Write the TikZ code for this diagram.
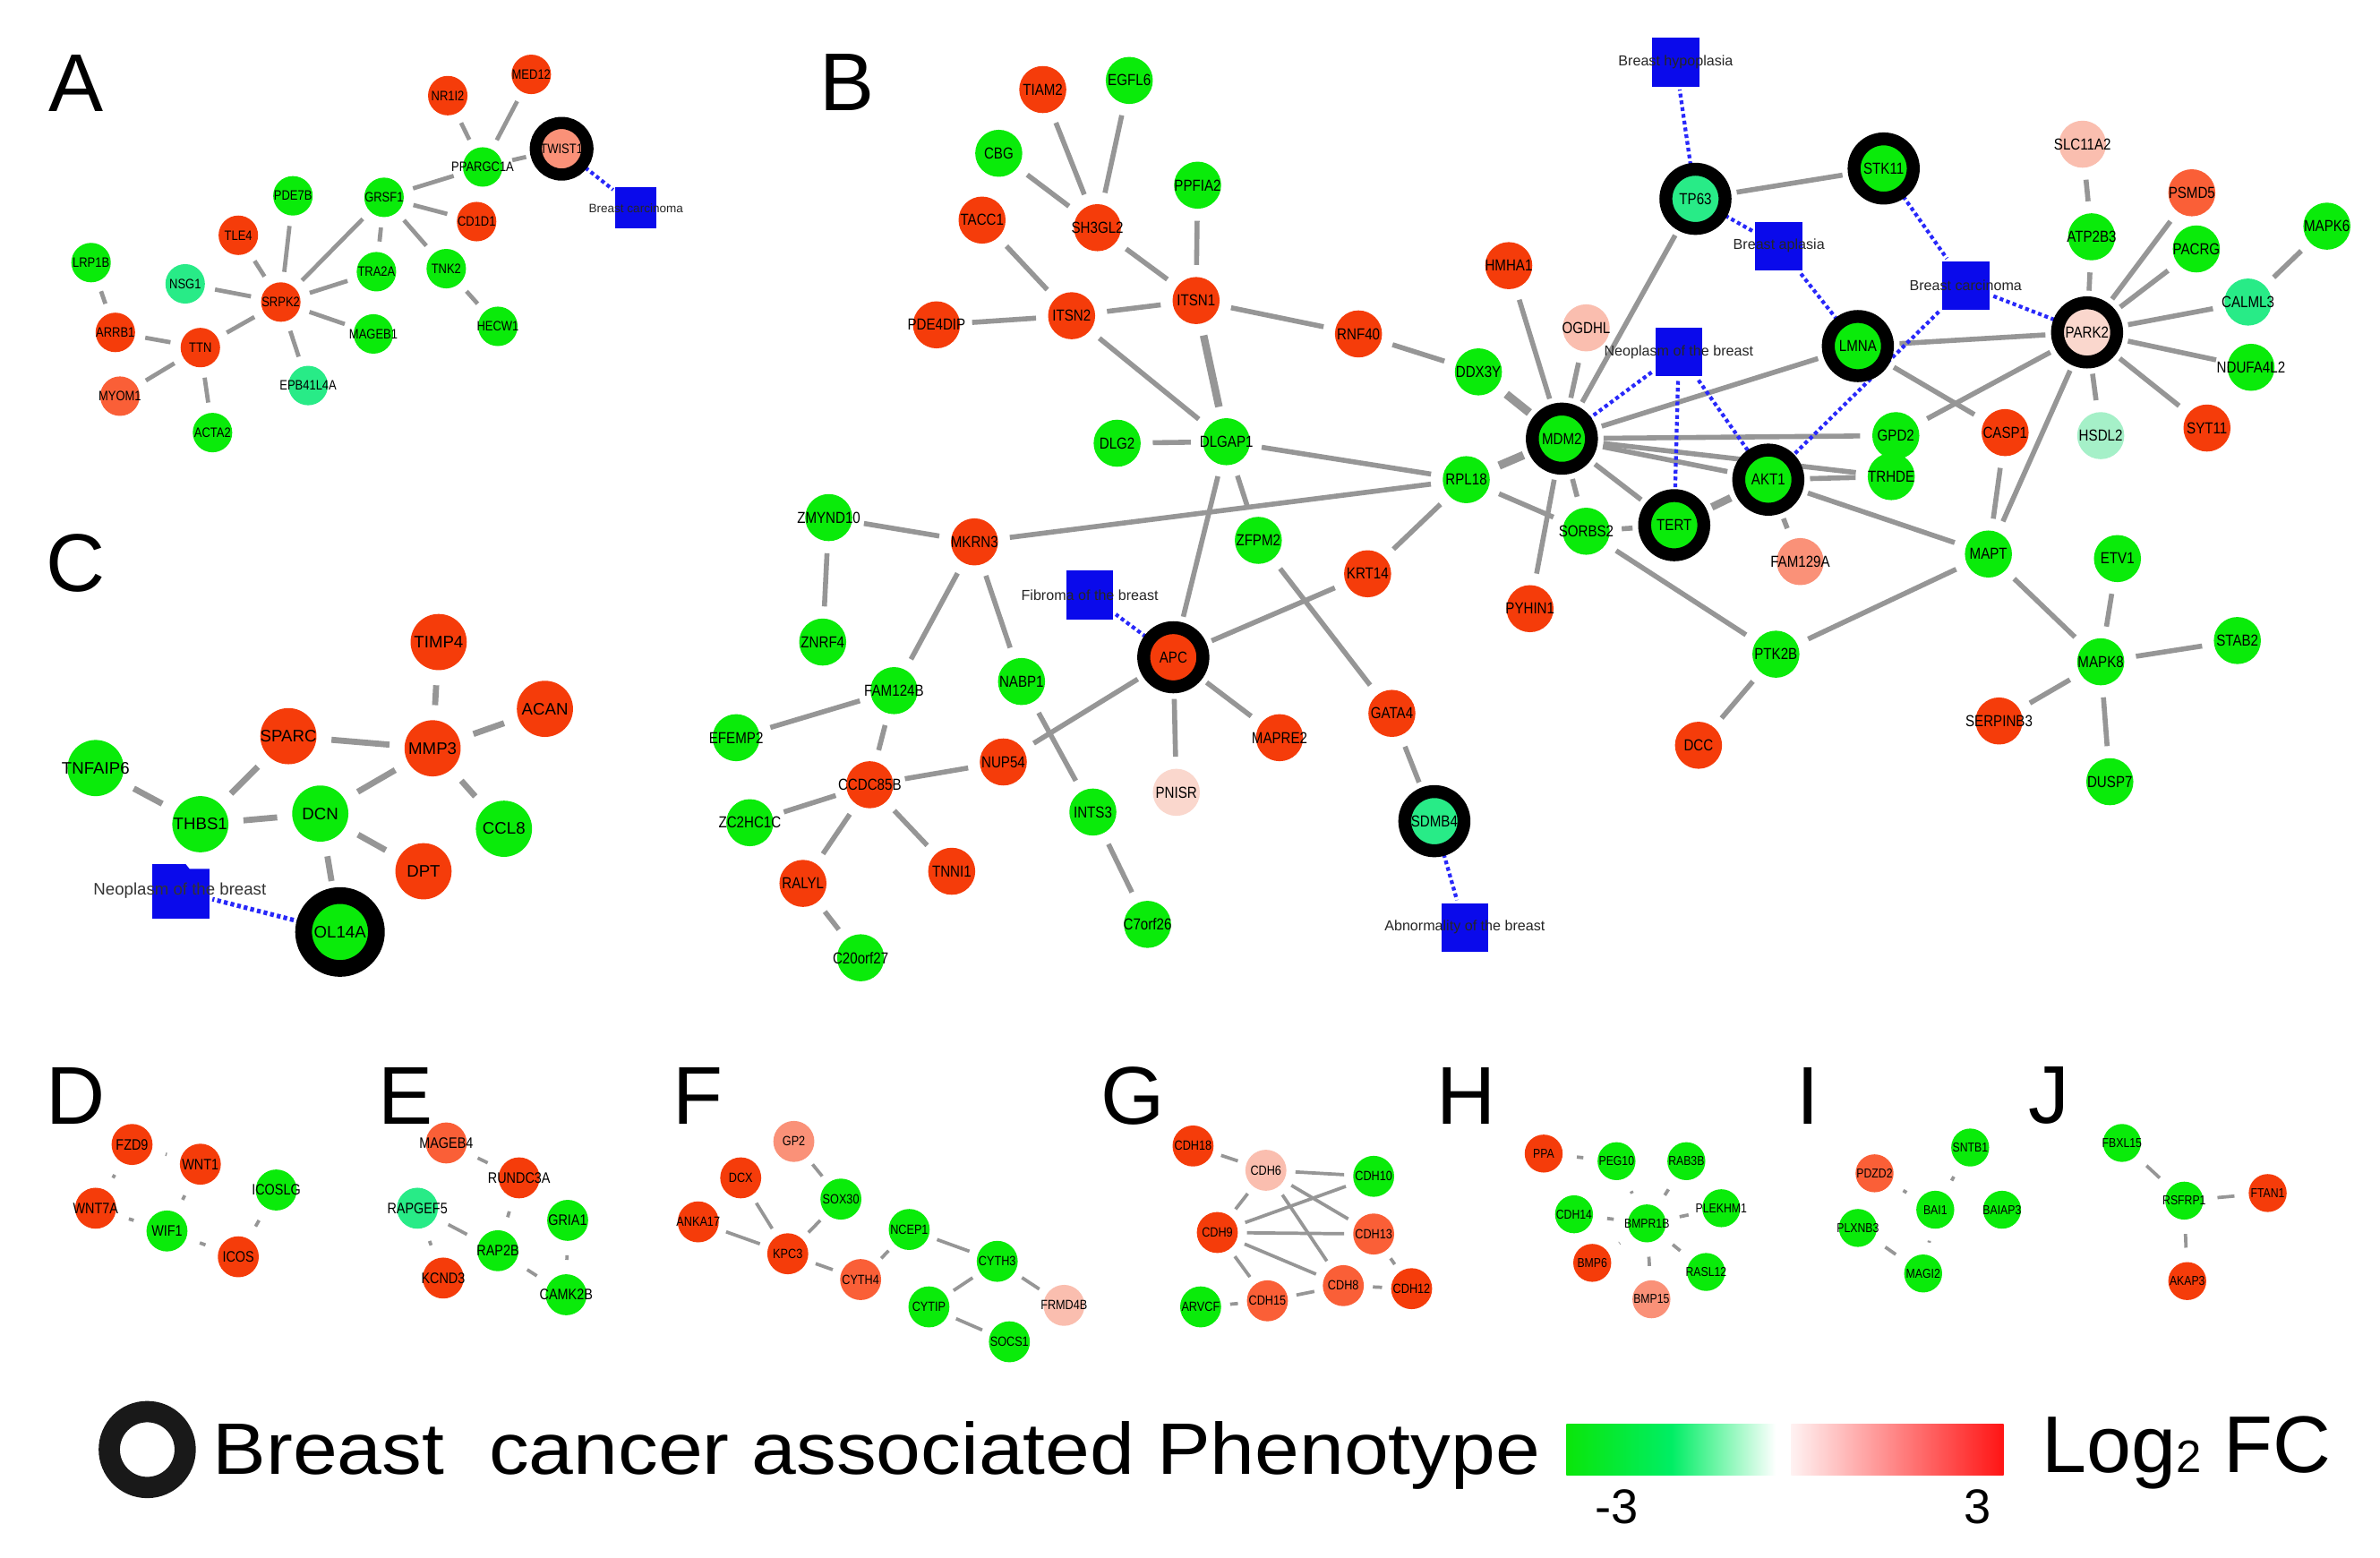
\documentclass[tikz,border=0pt]{standalone}
\usepackage{fontspec}
\setmainfont{Liberation Sans}
\newfontfamily\gf[FakeStretch=0.85]{Liberation Sans}
\usetikzlibrary{shapes.geometric}
\pgfdeclarelayer{paper}
\pgfdeclarelayer{bg}
\pgfsetlayers{paper,bg,main}
\definecolor{nred}{RGB}{245,60,10}
\definecolor{ngreen}{RGB}{10,235,10}
\definecolor{nteal}{RGB}{40,235,135}
\definecolor{nsalmon}{RGB}{250,145,120}
\definecolor{nlpink}{RGB}{250,190,175}
\definecolor{nvlpink}{RGB}{250,215,205}
\definecolor{norange}{RGB}{250,95,55}
\definecolor{nmint}{RGB}{165,240,200}
\definecolor{sqblue}{RGB}{10,10,235}
\definecolor{edgegray}{RGB}{150,150,150}
\definecolor{dotblue}{RGB}{40,40,250}
\tikzset{
 base/.style={circle, inner sep=0pt, outer sep=0pt},
 na/.style={base, minimum size=26pt},
 nat/.style={inner sep=0pt, font=\gf\fontsize{9}{9}\selectfont},
 ra/.style={base, draw=black, line width=8pt, minimum size=34pt},
 rat/.style={nat},
 nb/.style={base, minimum size=31pt},
 nbt/.style={inner sep=0pt, font=\gf\fontsize{10.5}{10.5}\selectfont},
 rb/.style={base, draw=black, line width=8.5pt, minimum size=39pt},
 rbt/.style={nbt},
 nc/.style={base, minimum size=37pt},
 nct/.style={inner sep=0pt, font=\fontsize{11}{11}\selectfont},
 rc/.style={base, draw=black, line width=11pt, minimum size=48pt},
 rct/.style={nct},
 nd/.style={base, minimum size=27pt},
 ndt/.style={inner sep=0pt, font=\gf\fontsize{10}{10}\selectfont},
 nf/.style={base, minimum size=27pt},
 nft/.style={inner sep=0pt, font=\gf\fontsize{8.8}{8.8}\selectfont},
 nh/.style={base, minimum size=25pt},
 nht/.style={inner sep=0pt, font=\gf\fontsize{8.5}{8.5}\selectfont},
 sqb/.style={rectangle, fill=sqblue, inner sep=0pt, outer sep=0pt, minimum width=31pt, minimum height=32pt},
 sqbt/.style={inner sep=0pt, font=\fontsize{9.5}{9.5}\selectfont, text=black!85},
 sqa/.style={rectangle, fill=sqblue, inner sep=0pt, outer sep=0pt, minimum width=27pt, minimum height=27pt},
 sqat/.style={inner sep=0pt, font=\fontsize{8}{8}\selectfont, text=black!85},
 sqc/.style={rectangle, fill=sqblue, inner sep=0pt, outer sep=0pt, minimum width=38pt, minimum height=36pt},
 sqct/.style={inner sep=0pt, font=\fontsize{11}{11}\selectfont, text=black!80},
 plet/.style={inner sep=0pt, font=\fontsize{54}{54}\selectfont},
 ea/.style={draw=edgegray, line width=2.8pt, shorten <=7pt, shorten >=7pt},
 eb/.style={draw=edgegray, line width=3.3pt, shorten <=8pt, shorten >=8pt},
 ec/.style={draw=edgegray, line width=4pt, shorten <=10pt, shorten >=10pt},
 es/.style={draw=edgegray, line width=2.2pt, shorten <=9.5pt, shorten >=9.5pt},
 ef/.style={draw=edgegray, line width=2.2pt, shorten <=6pt, shorten >=6pt},
 dotl/.style={draw=dotblue, line width=2.5pt, dash pattern=on 2.5pt off 2pt, shorten <=3pt, shorten >=2pt},
}
\newcommand\gnode[5][nb]{\node[#1,fill=#3] (#2) at (#4) {}; \node[#1t] (#2-l) at (#4) {#5};}
\newcommand\sqnode[4][sqb]{\node[#1] (#2) at (#3) {}; \node[#1t] (#2-l) at (#3) {#4};}
\begin{document}
\begin{tikzpicture}[x=1pt,y=-1pt]
\begin{pgfonlayer}{paper}
\fill[white] (0,0) rectangle (1568,1026);
\end{pgfonlayer}
\useasboundingbox (0,0) rectangle (1568,1026);
% panel letters
\node[plet] (lA) at (50,55) {A};
\node[plet] (lB) at (558,54) {B};
\node[plet] (lC) at (50,371) {C};
\node[plet] (lD) at (50,722) {D};
\node[plet] (lE) at (267,722) {E};
\node[plet] (lF) at (460,722) {F};
\node[plet] (lG) at (746,722) {G};
\node[plet] (lH) at (966,722) {H};
\node[plet] (lI) at (1191,722) {I};
\node[plet] (lJ) at (1350,722) {J};
% ---------------- A
\gnode[na]{MED12}{nred}{350,49}{MED12}
\gnode[na]{NR1I2}{nred}{295,63}{NR1I2}
\gnode[ra]{TWIST1}{nsalmon}{370,98}{TWIST1}
\gnode[na]{PPARGC1A}{ngreen}{318,110}{PPARGC1A}
\sqnode[sqa]{sqA}{419,137}{Breast carcinoma}
\gnode[na]{GRSF1}{ngreen}{253,130}{GRSF1}
\gnode[na]{PDE7B}{ngreen}{193,129}{PDE7B}
\gnode[na]{CD1D1}{nred}{314,146}{CD1D1}
\gnode[na]{TLE4}{nred}{157,155}{TLE4}
\gnode[na]{LRP1B}{ngreen}{60,173}{LRP1B}
\gnode[na]{TRA2A}{ngreen}{248,179}{TRA2A}
\gnode[na]{TNK2}{ngreen}{294,177}{TNK2}
\gnode[na]{NSG1}{nteal}{122,187}{NSG1}
\gnode[na]{SRPK2}{nred}{185,199}{SRPK2}
\gnode[na]{HECW1}{ngreen}{328,215}{HECW1}
\gnode[na]{ARRB1}{nred}{76,219}{ARRB1}
\gnode[na]{MAGEB1}{ngreen}{246,220}{MAGEB1}
\gnode[na]{TTN}{nred}{132,229}{TTN}
\gnode[na]{EPB41L4A}{nteal}{203,254}{EPB41L4A}
\gnode[na]{MYOM1}{norange}{79,261}{MYOM1}
\gnode[na]{ACTA2}{ngreen}{140,285}{ACTA2}
% ---------------- B
\sqnode{sqHypo}{1104,41}{Breast hypoplasia}
\sqnode{sqApl}{1172,162}{Breast aplasia}
\sqnode{sqCarc}{1295,188}{Breast carcinoma}
\sqnode{sqNeo}{1106,232}{Neoplasm of the breast}
\sqnode{sqFib}{718,392}{Fibroma of the breast}
\sqnode{sqAbn}{965,611}{Abnormality of the breast}
\gnode{TIAM2}{nred}{687,59}{TIAM2}
\gnode{EGFL6}{ngreen}{744,53}{EGFL6}
\gnode{CBG}{ngreen}{658,101}{CBG}
\gnode{PPFIA2}{ngreen}{789,122}{PPFIA2}
\gnode{TACC1}{nred}{647,145}{TACC1}
\gnode{SH3GL2}{nred}{723,150}{SH3GL2}
\gnode{ITSN1}{nred}{788,198}{ITSN1}
\gnode{ITSN2}{nred}{706,208}{ITSN2}
\gnode{PDE4DIP}{nred}{617,214}{PDE4DIP}
\gnode{RNF40}{nred}{895,220}{RNF40}
\gnode{DDX3Y}{ngreen}{974,245}{DDX3Y}
\gnode{HMHA1}{nred}{994,175}{HMHA1}
\gnode{OGDHL}{nlpink}{1045,216}{OGDHL}
\gnode{DLG2}{ngreen}{736,292}{DLG2}
\gnode{DLGAP1}{ngreen}{808,291}{DLGAP1}
\gnode{RPL18}{ngreen}{966,316}{RPL18}
\gnode{ZMYND10}{ngreen}{546,341}{ZMYND10}
\gnode{MKRN3}{nred}{642,357}{MKRN3}
\gnode{ZFPM2}{ngreen}{829,356}{ZFPM2}
\gnode{KRT14}{nred}{901,378}{KRT14}
\gnode{PYHIN1}{nred}{1008,401}{PYHIN1}
\gnode{SORBS2}{ngreen}{1045,350}{SORBS2}
\gnode[rb]{TERT}{ngreen}{1103,346}{TERT}
\gnode[rb]{AKT1}{ngreen}{1165,316}{AKT1}
\gnode{FAM129A}{nsalmon}{1186,370}{FAM129A}
\gnode[rb]{MDM2}{ngreen}{1029,289}{MDM2}
\gnode[rb]{LMNA}{ngreen}{1224,228}{LMNA}
\gnode[rb]{TP63}{nteal}{1117,131}{TP63}
\gnode[rb]{STK11}{ngreen}{1241,111}{STK11}
\gnode[rb]{PARK2}{nvlpink}{1375,219}{PARK2}
\gnode{SLC11A2}{nlpink}{1372,95}{SLC11A2}
\gnode{PSMD5}{norange}{1444,127}{PSMD5}
\gnode{ATP2B3}{ngreen}{1378,156}{ATP2B3}
\gnode{PACRG}{ngreen}{1447,164}{PACRG}
\gnode{MAPK6}{ngreen}{1533,149}{MAPK6}
\gnode{CALML3}{nteal}{1481,199}{CALML3}
\gnode{NDUFA4L2}{ngreen}{1483,242}{NDUFA4L2}
\gnode{SYT11}{nred}{1454,282}{SYT11}
\gnode{HSDL2}{nmint}{1384,287}{HSDL2}
\gnode{CASP1}{nred}{1321,285}{CASP1}
\gnode{GPD2}{ngreen}{1249,287}{GPD2}
\gnode{TRHDE}{ngreen}{1246,314}{TRHDE}
\gnode{MAPT}{ngreen}{1310,365}{MAPT}
\gnode{ETV1}{ngreen}{1395,368}{ETV1}
\gnode{PTK2B}{ngreen}{1170,431}{PTK2B}
\gnode{MAPK8}{ngreen}{1384,436}{MAPK8}
\gnode{STAB2}{ngreen}{1474,422}{STAB2}
\gnode{SERPINB3}{nred}{1317,475}{SERPINB3}
\gnode{DCC}{nred}{1119,491}{DCC}
\gnode{DUSP7}{ngreen}{1390,515}{DUSP7}
\gnode{ZNRF4}{ngreen}{542,423}{ZNRF4}
\gnode[rb]{APC}{nred}{773,433}{APC}
\gnode{NABP1}{ngreen}{673,449}{NABP1}
\gnode{FAM124B}{ngreen}{589,455}{FAM124B}
\gnode{EFEMP2}{ngreen}{485,486}{EFEMP2}
\gnode{GATA4}{nred}{917,470}{GATA4}
\gnode{MAPRE2}{nred}{843,486}{MAPRE2}
\gnode{NUP54}{nred}{661,502}{NUP54}
\gnode{CCDC85B}{nred}{573,517}{CCDC85B}
\gnode{PNISR}{nvlpink}{775,522}{PNISR}
\gnode{INTS3}{ngreen}{720,535}{INTS3}
\gnode{ZC2HC1C}{ngreen}{494,542}{ZC2HC1C}
\gnode[rb]{SDMB4}{nteal}{945,541}{SDMB4}
\gnode{TNNI1}{nred}{627,574}{TNNI1}
\gnode{RALYL}{nred}{529,582}{RALYL}
\gnode{C7orf26}{ngreen}{756,609}{C7orf26}
\gnode{C20orf27}{ngreen}{567,631}{C20orf27}
% ---------------- C
\gnode[nc]{TIMP4}{nred}{289,423}{TIMP4}
\gnode[nc]{ACAN}{nred}{359,467}{ACAN}
\gnode[nc]{SPARC}{nred}{190,485}{SPARC}
\gnode[nc]{MMP3}{nred}{285,493}{MMP3}
\gnode[nc]{TNFAIP6}{ngreen}{63,506}{TNFAIP6}
\gnode[nc]{DCN}{ngreen}{211,536}{DCN}
\gnode[nc]{THBS1}{ngreen}{132,543}{THBS1}
\gnode[nc]{CCL8}{ngreen}{332,546}{CCL8}
\gnode[nc]{DPT}{nred}{279,574}{DPT}
\node[sqc] (sqC) at (119,587) {};
\fill[white] (121,567.5) -- (139,567.5) -- (139,572.5) -- (125,572.5) -- cycle;
\node[sqct] (sqC-l) at (118.5,587) {Neoplasm of the breast};
\gnode[rc]{COL14A}{ngreen}{224,614}{OL14A}
% ---------------- D
\gnode[nd]{FZD9}{nred}{87,754}{FZD9}
\gnode[nd]{WNT1}{nred}{132,767}{WNT1}
\gnode[nd]{ICOSLG}{ngreen}{182,784}{ICOSLG}
\gnode[nd]{WNT7A}{nred}{63,796}{WNT7A}
\gnode[nd]{WIF1}{ngreen}{110,811}{WIF1}
\gnode[nd]{ICOS}{nred}{157,828}{ICOS}
% ---------------- E
\gnode[nd]{MAGEB4}{norange}{294,753}{MAGEB4}
\gnode[nd]{RUNDC3A}{nred}{342,776}{RUNDC3A}
\gnode[nd]{RAPGEF5}{nteal}{275,796}{RAPGEF5}
\gnode[nd]{GRIA1}{ngreen}{374,804}{GRIA1}
\gnode[nd]{RAP2B}{ngreen}{328,824}{RAP2B}
\gnode[nd]{KCND3}{nred}{292,842}{KCND3}
\gnode[nd]{CAMK2B}{ngreen}{373,853}{CAMK2B}
% ---------------- F
\gnode[nf]{GP2}{nsalmon}{523,752}{GP2}
\gnode[nf]{DCX}{nred}{488,776}{DCX}
\gnode[nf]{SOX30}{ngreen}{554,790}{SOX30}
\gnode[nf]{ANKA17}{nred}{460,805}{ANKA17}
\gnode[nf]{NCEP1}{ngreen}{599,810}{NCEP1}
\gnode[nf]{KPC3}{nred}{519,826}{KPC3}
\gnode[nf]{CYTH3}{ngreen}{657,831}{CYTH3}
\gnode[nf]{CYTH4}{norange}{567,843}{CYTH4}
\gnode[nf]{CYTIP}{ngreen}{612,861}{CYTIP}
\gnode[nf]{FRMD4B}{nlpink}{701,860}{FRMD4B}
\gnode[nf]{SOCS1}{ngreen}{665,884}{SOCS1}
% ---------------- G
\gnode[nf]{CDH18}{nred}{786,755}{CDH18}
\gnode[nf]{CDH6}{nlpink}{834,771}{CDH6}
\gnode[nf]{CDH10}{ngreen}{905,775}{CDH10}
\gnode[nf]{CDH9}{nred}{802,812}{CDH9}
\gnode[nf]{CDH13}{norange}{905,813}{CDH13}
\gnode[nf]{CDH8}{norange}{885,847}{CDH8}
\gnode[nf]{CDH12}{nred}{930,849}{CDH12}
\gnode[nf]{ARVCF}{ngreen}{791,861}{ARVCF}
\gnode[nf]{CDH15}{norange}{835,857}{CDH15}
% ---------------- H
\gnode[nh]{PPA}{nred}{1017,760}{PPA}
\gnode[nh]{PEG10}{ngreen}{1065,765}{PEG10}
\gnode[nh]{RAB3B}{ngreen}{1111,765}{RAB3B}
\gnode[nh]{CDH14}{ngreen}{1037,800}{CDH14}
\gnode[nh]{BMPR1B}{ngreen}{1085,806}{BMPR1B}
\gnode[nh]{PLEKHM1}{ngreen}{1134,796}{PLEKHM1}
\gnode[nh]{BMP6}{nred}{1049,832}{BMP6}
\gnode[nh]{RASL12}{ngreen}{1124,838}{RASL12}
\gnode[nh]{BMP15}{nsalmon}{1088,856}{BMP15}
% ---------------- I
\gnode[nh]{PDZD2}{norange}{1235,773}{PDZD2}
\gnode[nh]{SNTB1}{ngreen}{1298,756}{SNTB1}
\gnode[nh]{BAI1}{ngreen}{1275,797}{BAI1}
\gnode[nh]{BAIAP3}{ngreen}{1319,797}{BAIAP3}
\gnode[nh]{PLXNB3}{ngreen}{1224,809}{PLXNB3}
\gnode[nh]{MAGI2}{ngreen}{1267,839}{MAGI2}
% ---------------- J
\gnode[nh]{FBXL15}{ngreen}{1398,753}{FBXL15}
\gnode[nh]{RSFRP1}{ngreen}{1439,791}{RSFRP1}
\gnode[nh]{FTAN1}{nred}{1494,786}{FTAN1}
\gnode[nh]{AKAP3}{nred}{1441,844}{AKAP3}
% ---------------- legend
\node[circle, draw=black!90, line width=14pt, minimum size=50pt, inner sep=0pt] (legring) at (97,955) {};
\node[anchor=base west, inner sep=0pt, font=\fontsize{48}{48}\selectfont] (legtxt) at (140,971) {\scalebox{1.1}[1]{Breast\ \ cancer associated Phenotype}};
\node[rectangle, inner sep=0pt, minimum width=138pt, minimum height=34pt, left color={rgb,255:red,10;green,230;blue,10}, right color=white, middle color={rgb,255:red,0;green,238;blue,100}] (gbar) at (1101,955) {};
\node[rectangle, inner sep=0pt, minimum width=140pt, minimum height=34pt, left color={rgb,255:red,255;green,242;blue,242}, right color={rgb,255:red,255;green,20;blue,20}] (rbar) at (1250,955) {};
\node[inner sep=0pt, font=\fontsize{32}{32}\selectfont] (lm3) at (1065,993) {-3};
\node[inner sep=0pt, font=\fontsize{32}{32}\selectfont] (lp3) at (1303,993) {3};
\node[anchor=base west, inner sep=0pt, font=\fontsize{53}{53}\selectfont] (logfc) at (1345,970) {Log{\fontsize{30}{30}\selectfont 2} FC};
% ---------------- edges
\begin{pgfonlayer}{bg}
\foreach \a/\b in {NR1I2/PPARGC1A, MED12/PPARGC1A, PPARGC1A/TWIST1, PPARGC1A/GRSF1, GRSF1/CD1D1, GRSF1/TNK2, GRSF1/TRA2A, GRSF1/SRPK2, TNK2/HECW1, PDE7B/SRPK2, TLE4/SRPK2, NSG1/SRPK2, TRA2A/SRPK2, MAGEB1/SRPK2, EPB41L4A/SRPK2, SRPK2/TTN, TTN/ARRB1, ARRB1/LRP1B, TTN/MYOM1, TTN/ACTA2}
  \draw[ea] (\a) -- (\b);
\draw[dotl] (TWIST1) -- (sqA);
\foreach \a/\b in {TIAM2/SH3GL2, EGFL6/SH3GL2, CBG/SH3GL2, SH3GL2/ITSN1, PPFIA2/ITSN1, TACC1/ITSN2, PDE4DIP/ITSN2, ITSN2/ITSN1, ITSN1/RNF40, RNF40/DDX3Y, ITSN2/DLGAP1, DLG2/DLGAP1, DLGAP1/RPL18, RPL18/SORBS2, DLGAP1/APC, DLGAP1/ZFPM2, ZFPM2/GATA4, GATA4/SDMB4, KRT14/APC, KRT14/RPL18, MKRN3/RPL18, MKRN3/ZMYND10, ZMYND10/ZNRF4, MKRN3/FAM124B, MKRN3/NABP1, NABP1/INTS3, INTS3/C7orf26, FAM124B/EFEMP2, FAM124B/CCDC85B, CCDC85B/NUP54, CCDC85B/ZC2HC1C, CCDC85B/RALYL, CCDC85B/TNNI1, RALYL/C20orf27, APC/NUP54, APC/MAPRE2, APC/PNISR, MDM2/HMHA1, MDM2/OGDHL, MDM2/TP63, MDM2/LMNA, MDM2/GPD2, MDM2/TRHDE, MDM2/AKT1, MDM2/TERT, MDM2/SORBS2, MDM2/PYHIN1, TP63/STK11, LMNA/PARK2, LMNA/CASP1, AKT1/TRHDE, AKT1/FAM129A, AKT1/MAPT, SORBS2/TERT, SORBS2/PTK2B, PTK2B/MAPT, PTK2B/DCC, MAPT/MAPK8, ETV1/MAPK8, MAPK8/STAB2, MAPK8/SERPINB3, MAPK8/DUSP7, CASP1/MAPT, PARK2/MAPT, PARK2/GPD2, PARK2/ATP2B3, ATP2B3/SLC11A2, PARK2/PSMD5, PARK2/PACRG, PARK2/CALML3, PARK2/NDUFA4L2, PARK2/SYT11, PARK2/HSDL2, CALML3/MAPK6}
  \draw[eb] (\a) -- (\b);
\draw[eb, line width=5pt] (ITSN1) -- (DLGAP1);
\draw[eb, line width=5pt] (AKT1) -- (TERT);
\draw[eb, line width=5.5pt] (MDM2) -- (RPL18);
\draw[eb, line width=5.5pt] (MDM2) -- (DDX3Y);
\foreach \a/\b in {TP63/sqHypo, TP63/sqApl, sqApl/LMNA, STK11/sqCarc, sqCarc/PARK2, sqCarc/AKT1, sqNeo/MDM2, sqNeo/TERT, sqNeo/AKT1, APC/sqFib, SDMB4/sqAbn}
  \draw[dotl] (\a) -- (\b);
\foreach \a/\b in {TIMP4/MMP3, ACAN/MMP3, SPARC/MMP3, SPARC/THBS1, TNFAIP6/THBS1, THBS1/DCN, DCN/MMP3, MMP3/CCL8, DCN/DPT, DCN/COL14A}
  \draw[ec] (\a) -- (\b);
\draw[dotl, line width=3pt] (COL14A) -- (sqC);
\foreach \a/\b in {FZD9/WNT1, FZD9/WNT7A, WNT1/WIF1, WNT7A/WIF1, WIF1/ICOS, ICOS/ICOSLG, MAGEB4/RUNDC3A, RUNDC3A/RAP2B, RAPGEF5/RAP2B, RAPGEF5/KCND3, RAP2B/CAMK2B, GRIA1/CAMK2B, PPA/PEG10, PEG10/BMPR1B, RAB3B/BMPR1B, CDH14/BMPR1B, BMPR1B/PLEKHM1, BMPR1B/BMP6, BMPR1B/BMP15, BMPR1B/RASL12, PDZD2/BAI1, SNTB1/BAI1, BAI1/BAIAP3, BAI1/MAGI2, PLXNB3/MAGI2, FBXL15/RSFRP1, RSFRP1/FTAN1, RSFRP1/AKAP3}
  \draw[es] (\a) -- (\b);
\foreach \a/\b in {GP2/SOX30, DCX/KPC3, ANKA17/KPC3, SOX30/KPC3, KPC3/CYTH4, CYTH4/NCEP1, NCEP1/CYTH3, CYTH3/CYTIP, CYTH3/FRMD4B, CYTIP/SOCS1, CDH18/CDH6, CDH6/CDH10, CDH6/CDH9, CDH6/CDH13, CDH6/CDH8, CDH9/CDH10, CDH9/CDH13, CDH9/CDH8, CDH9/CDH15, CDH15/CDH8, CDH8/CDH12, CDH13/CDH12, ARVCF/CDH15}
  \draw[ef] (\a) -- (\b);
\end{pgfonlayer}
\end{tikzpicture}
\end{document}
